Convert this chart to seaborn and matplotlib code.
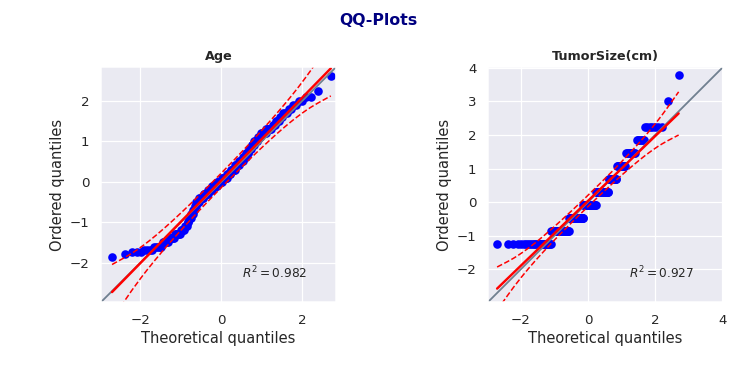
import numpy as np
import matplotlib
matplotlib.use("Agg")
import matplotlib.pyplot as plt
import seaborn as sns
from statistics import NormalDist

# standardized values (level -> how many points)
age_levels = [-1.87, -1.78, -1.74, -1.69, -1.6, -1.5, -1.4, -1.3, -1.2, -1.1,
              -1.0, -0.9, -0.8, -0.7, -0.6, -0.5, -0.4, -0.3, -0.2, -0.1,
              0.0, 0.1, 0.2, 0.3, 0.4, 0.5, 0.6, 0.7, 0.8, 0.9,
              1.0, 1.1, 1.2, 1.3, 1.4, 1.5, 1.6, 1.7, 1.8, 1.9,
              2.0, 2.1, 2.24, 2.61]
age_counts = [1, 1, 3, 4, 5, 5, 6, 6, 5, 4,
              2, 3, 3, 3, 2, 5, 8, 8, 8, 9,
              10, 10, 7, 8, 8, 7, 5, 4, 4, 4,
              5, 4, 6, 6, 3, 3, 2, 3, 2, 2,
              2, 2, 1, 1]

tumor_levels = [-1.23, -0.845, -0.46, -0.075, 0.31, 0.695, 1.08, 1.465, 1.85, 2.235, 3.005, 3.775]
tumor_counts = [27, 30, 32, 30, 27, 15, 13, 11, 6, 7, 1, 1]

titles = ["Age", "TumorSize(cm)"]

nd = NormalDist()


def qqplot(ax, values, confidence=0.95):
    x = np.sort(np.asarray(values, dtype=float))
    n = x.size
    # Filliben's estimate of the order statistic medians
    m = np.empty(n)
    m[-1] = 0.5 ** (1.0 / n)
    m[0] = 1 - m[-1]
    i = np.arange(2, n)
    m[1:-1] = (i - 0.3175) / (n + 0.365)
    theor = np.array([nd.inv_cdf(p) for p in m])

    slope, intercept = np.polyfit(theor, x, 1)
    r = np.corrcoef(theor, x)[0, 1]

    sns.scatterplot(x=theor, y=x, ax=ax, color="blue", s=50, linewidth=0)

    # diagonal line and square limits
    end_pts = [min(ax.get_xlim()), max(ax.get_ylim())]
    ax.plot(end_pts, end_pts, color="slategrey", lw=1.5)
    ax.set_xlim(end_pts)
    ax.set_ylim(end_pts)

    fit_val = slope * theor + intercept
    ax.plot(theor, fit_val, color="red", ls="-", lw=2)

    posx = end_pts[0] + 0.60 * (end_pts[1] - end_pts[0])
    posy = end_pts[0] + 0.10 * (end_pts[1] - end_pts[0])
    ax.text(posx, posy, "$R^2=%.3f$" % r ** 2, fontsize=10)

    # confidence envelope
    P = (np.arange(n) + 1 - 0.5) / (n + 1 - 2 * 0.5)
    crit = nd.inv_cdf(1 - (1 - confidence) / 2)
    pdf = np.array([nd.pdf(t) for t in theor])
    se = (slope / pdf) * np.sqrt(P * (1 - P) / n)
    ax.plot(theor, fit_val + crit * se, color="red", ls="--", lw=1.25)
    ax.plot(theor, fit_val - crit * se, color="red", ls="--", lw=1.25)

    ax.set_xlabel("Theoretical quantiles")
    ax.set_ylabel("Ordered quantiles")
    ax.set_aspect("equal")


sns.set_theme(style="darkgrid")

age = np.repeat(age_levels, age_counts)
tumor = np.repeat(tumor_levels, tumor_counts)

fig, axes = plt.subplots(1, 2, figsize=(8.65, 4.32), dpi=87.5)
for ax, data, title in zip(axes, [age, tumor], titles):
    qqplot(ax, data)
    ax.set_title(title, fontweight="bold", fontsize=10.5)

fig.subplots_adjust(left=0.133, right=0.956, bottom=0.201, top=0.823, wspace=0.64)
fig.suptitle("QQ-Plots", fontweight="bold", color="navy", fontsize=13, y=0.965)
fig.savefig("out.png", dpi=87.5)
